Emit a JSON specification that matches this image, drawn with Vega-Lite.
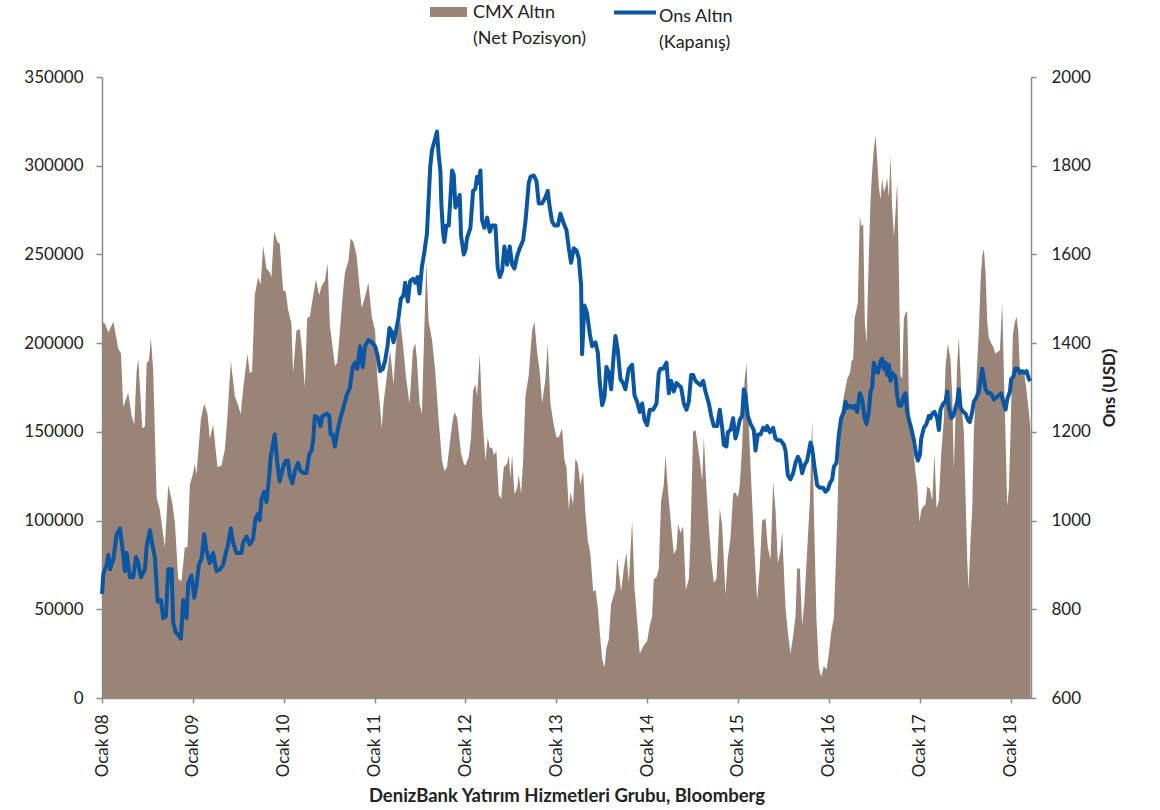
{
"$schema": "https://vega.github.io/schema/vega-lite/v6.json",
"autosize": {"type": "none"},
"padding": {"left": 102, "top": 77, "right": 129, "bottom": 112},
"width": 929,
"height": 621,
"background": "white",
"datasets": {
"cmx": [
{"yil":2008.000,"net":212000},{"yil":2008.033,"net":211000},{"yil":2008.070,"net":206000},{"yil":2008.125,"net":212000},{"yil":2008.179,"net":197000},{"yil":2008.209,"net":194000},{"yil":2008.234,"net":164000},{"yil":2008.289,"net":172000},{"yil":2008.326,"net":159000},{"yil":2008.355,"net":154000},{"yil":2008.381,"net":184000},{"yil":2008.399,"net":191000},{"yil":2008.418,"net":175000},{"yil":2008.443,"net":152000},{"yil":2008.473,"net":153000},{"yil":2008.491,"net":189000},{"yil":2008.516,"net":190000},{"yil":2008.538,"net":203000},{"yil":2008.564,"net":184000},{"yil":2008.601,"net":113000},{"yil":2008.637,"net":106000},{"yil":2008.692,"net":85000},{"yil":2008.729,"net":120000},{"yil":2008.773,"net":110000},{"yil":2008.802,"net":99000},{"yil":2008.839,"net":67000},{"yil":2008.875,"net":66000},{"yil":2008.912,"net":85000},{"yil":2008.941,"net":85000},{"yil":2008.967,"net":120000},
{"yil":2009.004,"net":127000},{"yil":2009.022,"net":132000},{"yil":2009.040,"net":126000},{"yil":2009.088,"net":157000},{"yil":2009.125,"net":166000},{"yil":2009.161,"net":160000},{"yil":2009.187,"net":146000},{"yil":2009.223,"net":154000},{"yil":2009.271,"net":130000},{"yil":2009.315,"net":131000},{"yil":2009.352,"net":140000},{"yil":2009.381,"net":159000},{"yil":2009.418,"net":190000},{"yil":2009.462,"net":170000},{"yil":2009.498,"net":165000},{"yil":2009.527,"net":160000},{"yil":2009.553,"net":174000},{"yil":2009.601,"net":194000},{"yil":2009.626,"net":183000},{"yil":2009.652,"net":184000},{"yil":2009.681,"net":227000},{"yil":2009.718,"net":237000},{"yil":2009.747,"net":233000},{"yil":2009.773,"net":255000},{"yil":2009.810,"net":242000},{"yil":2009.846,"net":240000},{"yil":2009.864,"net":237000},{"yil":2009.894,"net":263000},{"yil":2009.930,"net":257000},{"yil":2009.956,"net":256000},{"yil":2009.993,"net":230000},
{"yil":2010.022,"net":229000},{"yil":2010.048,"net":219000},{"yil":2010.085,"net":211000},{"yil":2010.103,"net":183000},{"yil":2010.140,"net":207000},{"yil":2010.177,"net":208000},{"yil":2010.206,"net":194000},{"yil":2010.232,"net":175000},{"yil":2010.258,"net":214000},{"yil":2010.287,"net":215000},{"yil":2010.313,"net":223000},{"yil":2010.354,"net":236000},{"yil":2010.390,"net":227000},{"yil":2010.416,"net":232000},{"yil":2010.453,"net":235000},{"yil":2010.483,"net":245000},{"yil":2010.508,"net":210000},{"yil":2010.538,"net":198000},{"yil":2010.564,"net":187000},{"yil":2010.589,"net":189000},{"yil":2010.619,"net":207000},{"yil":2010.648,"net":226000},{"yil":2010.674,"net":240000},{"yil":2010.711,"net":246000},{"yil":2010.737,"net":259000},{"yil":2010.766,"net":257000},{"yil":2010.803,"net":249000},{"yil":2010.832,"net":233000},{"yil":2010.858,"net":220000},{"yil":2010.895,"net":226000},{"yil":2010.932,"net":234000},{"yil":2010.969,"net":215000},
{"yil":2011.006,"net":207000},{"yil":2011.031,"net":180000},{"yil":2011.061,"net":164000},{"yil":2011.079,"net":152000},{"yil":2011.098,"net":166000},{"yil":2011.134,"net":181000},{"yil":2011.171,"net":196000},{"yil":2011.208,"net":177000},{"yil":2011.245,"net":205000},{"yil":2011.282,"net":213000},{"yil":2011.319,"net":196000},{"yil":2011.348,"net":180000},{"yil":2011.385,"net":166000},{"yil":2011.422,"net":196000},{"yil":2011.448,"net":200000},{"yil":2011.466,"net":191000},{"yil":2011.495,"net":166000},{"yil":2011.521,"net":160000},{"yil":2011.547,"net":207000},{"yil":2011.569,"net":246000},{"yil":2011.595,"net":212000},{"yil":2011.632,"net":202000},{"yil":2011.668,"net":184000},{"yil":2011.705,"net":157000},{"yil":2011.742,"net":134000},{"yil":2011.768,"net":128000},{"yil":2011.797,"net":130000},{"yil":2011.827,"net":143000},{"yil":2011.853,"net":154000},{"yil":2011.878,"net":161000},{"yil":2011.908,"net":158000},{"yil":2011.952,"net":138000},{"yil":2011.982,"net":132000},
{"yil":2012.000,"net":131000},{"yil":2012.037,"net":136000},{"yil":2012.062,"net":147000},{"yil":2012.084,"net":173000},{"yil":2012.110,"net":177000},{"yil":2012.128,"net":170000},{"yil":2012.158,"net":194000},{"yil":2012.183,"net":161000},{"yil":2012.220,"net":134000},{"yil":2012.246,"net":147000},{"yil":2012.268,"net":141000},{"yil":2012.294,"net":141000},{"yil":2012.312,"net":137000},{"yil":2012.341,"net":139000},{"yil":2012.367,"net":115000},{"yil":2012.393,"net":112000},{"yil":2012.422,"net":130000},{"yil":2012.459,"net":132000},{"yil":2012.477,"net":137000},{"yil":2012.495,"net":124000},{"yil":2012.514,"net":137000},{"yil":2012.539,"net":115000},{"yil":2012.569,"net":118000},{"yil":2012.587,"net":126000},{"yil":2012.613,"net":115000},{"yil":2012.635,"net":134000},{"yil":2012.661,"net":170000},{"yil":2012.697,"net":182000},{"yil":2012.734,"net":207000},{"yil":2012.760,"net":212000},{"yil":2012.789,"net":195000},{"yil":2012.818,"net":184000},{"yil":2012.844,"net":166000},{"yil":2012.881,"net":180000},{"yil":2012.906,"net":200000},{"yil":2012.936,"net":166000},{"yil":2012.972,"net":154000},
{"yil":2013.002,"net":147000},{"yil":2013.028,"net":147000},{"yil":2013.064,"net":152000},{"yil":2013.090,"net":134000},{"yil":2013.112,"net":130000},{"yil":2013.138,"net":106000},{"yil":2013.156,"net":116000},{"yil":2013.185,"net":109000},{"yil":2013.211,"net":135000},{"yil":2013.237,"net":132000},{"yil":2013.266,"net":120000},{"yil":2013.295,"net":128000},{"yil":2013.321,"net":104000},{"yil":2013.347,"net":89000},{"yil":2013.376,"net":81000},{"yil":2013.406,"net":60000},{"yil":2013.431,"net":61000},{"yil":2013.457,"net":51000},{"yil":2013.479,"net":37000},{"yil":2013.505,"net":22000},{"yil":2013.530,"net":17000},{"yil":2013.552,"net":28000},{"yil":2013.578,"net":33000},{"yil":2013.604,"net":53000},{"yil":2013.633,"net":58000},{"yil":2013.651,"net":61000},{"yil":2013.670,"net":79000},{"yil":2013.688,"net":71000},{"yil":2013.714,"net":60000},{"yil":2013.743,"net":73000},{"yil":2013.772,"net":82000},{"yil":2013.798,"net":65000},{"yil":2013.835,"net":100000},{"yil":2013.861,"net":62000},{"yil":2013.890,"net":44000},{"yil":2013.919,"net":25000},{"yil":2013.945,"net":28000},{"yil":2013.982,"net":31000},
{"yil":2014.000,"net":32000},{"yil":2014.029,"net":41000},{"yil":2014.055,"net":46000},{"yil":2014.073,"net":67000},{"yil":2014.103,"net":68000},{"yil":2014.128,"net":73000},{"yil":2014.154,"net":111000},{"yil":2014.183,"net":120000},{"yil":2014.202,"net":137000},{"yil":2014.228,"net":118000},{"yil":2014.257,"net":101000},{"yil":2014.294,"net":81000},{"yil":2014.323,"net":84000},{"yil":2014.341,"net":98000},{"yil":2014.367,"net":93000},{"yil":2014.396,"net":97000},{"yil":2014.426,"net":61000},{"yil":2014.459,"net":67000},{"yil":2014.477,"net":90000},{"yil":2014.506,"net":150000},{"yil":2014.532,"net":151000},{"yil":2014.550,"net":145000},{"yil":2014.580,"net":134000},{"yil":2014.606,"net":122000},{"yil":2014.624,"net":147000},{"yil":2014.653,"net":118000},{"yil":2014.679,"net":97000},{"yil":2014.705,"net":78000},{"yil":2014.734,"net":65000},{"yil":2014.763,"net":67000},{"yil":2014.800,"net":107000},{"yil":2014.826,"net":97000},{"yil":2014.862,"net":58000},{"yil":2014.888,"net":79000},{"yil":2014.917,"net":90000},{"yil":2014.947,"net":115000},{"yil":2014.972,"net":116000},{"yil":2014.998,"net":113000},
{"yil":2015.020,"net":120000},{"yil":2015.046,"net":142000},{"yil":2015.072,"net":179000},{"yil":2015.094,"net":189000},{"yil":2015.119,"net":154000},{"yil":2015.138,"net":131000},{"yil":2015.174,"net":90000},{"yil":2015.211,"net":55000},{"yil":2015.240,"net":74000},{"yil":2015.266,"net":100000},{"yil":2015.303,"net":101000},{"yil":2015.328,"net":85000},{"yil":2015.358,"net":78000},{"yil":2015.387,"net":122000},{"yil":2015.413,"net":106000},{"yil":2015.439,"net":76000},{"yil":2015.468,"net":83000},{"yil":2015.486,"net":94000},{"yil":2015.523,"net":51000},{"yil":2015.549,"net":37000},{"yil":2015.578,"net":25000},{"yil":2015.607,"net":35000},{"yil":2015.633,"net":46000},{"yil":2015.651,"net":73000},{"yil":2015.681,"net":73000},{"yil":2015.706,"net":41000},{"yil":2015.732,"net":55000},{"yil":2015.761,"net":83000},{"yil":2015.791,"net":111000},{"yil":2015.817,"net":157000},{"yil":2015.835,"net":106000},{"yil":2015.864,"net":44000},{"yil":2015.890,"net":17000},{"yil":2015.916,"net":12000},{"yil":2015.945,"net":18000},{"yil":2015.974,"net":16000},
{"yil":2016.000,"net":25000},{"yil":2016.026,"net":37000},{"yil":2016.055,"net":45000},{"yil":2016.073,"net":71000},{"yil":2016.092,"net":101000},{"yil":2016.110,"net":136000},{"yil":2016.136,"net":159000},{"yil":2016.165,"net":170000},{"yil":2016.202,"net":180000},{"yil":2016.231,"net":183000},{"yil":2016.250,"net":190000},{"yil":2016.268,"net":191000},{"yil":2016.283,"net":214000},{"yil":2016.305,"net":219000},{"yil":2016.319,"net":223000},{"yil":2016.341,"net":272000},{"yil":2016.356,"net":266000},{"yil":2016.378,"net":267000},{"yil":2016.396,"net":212000},{"yil":2016.415,"net":200000},{"yil":2016.440,"net":249000},{"yil":2016.459,"net":281000},{"yil":2016.477,"net":297000},{"yil":2016.495,"net":309000},{"yil":2016.514,"net":317000},{"yil":2016.532,"net":304000},{"yil":2016.550,"net":288000},{"yil":2016.569,"net":281000},{"yil":2016.587,"net":293000},{"yil":2016.606,"net":285000},{"yil":2016.624,"net":288000},{"yil":2016.642,"net":293000},{"yil":2016.661,"net":282000},{"yil":2016.679,"net":306000},{"yil":2016.697,"net":276000},{"yil":2016.716,"net":260000},{"yil":2016.734,"net":274000},{"yil":2016.752,"net":291000},{"yil":2016.771,"net":240000},{"yil":2016.789,"net":182000},{"yil":2016.807,"net":180000},{"yil":2016.826,"net":214000},{"yil":2016.844,"net":217000},{"yil":2016.862,"net":218000},{"yil":2016.881,"net":170000},{"yil":2016.899,"net":152000},{"yil":2016.928,"net":141000},{"yil":2016.954,"net":127000},{"yil":2016.972,"net":120000},{"yil":2016.998,"net":99000},
{"yil":2017.017,"net":106000},{"yil":2017.039,"net":108000},{"yil":2017.064,"net":109000},{"yil":2017.083,"net":119000},{"yil":2017.112,"net":118000},{"yil":2017.138,"net":111000},{"yil":2017.163,"net":138000},{"yil":2017.185,"net":107000},{"yil":2017.211,"net":111000},{"yil":2017.237,"net":138000},{"yil":2017.266,"net":157000},{"yil":2017.284,"net":187000},{"yil":2017.310,"net":200000},{"yil":2017.339,"net":191000},{"yil":2017.358,"net":170000},{"yil":2017.376,"net":129000},{"yil":2017.394,"net":159000},{"yil":2017.413,"net":189000},{"yil":2017.431,"net":203000},{"yil":2017.450,"net":182000},{"yil":2017.468,"net":161000},{"yil":2017.486,"net":150000},{"yil":2017.505,"net":113000},{"yil":2017.523,"net":78000},{"yil":2017.538,"net":61000},{"yil":2017.560,"net":90000},{"yil":2017.578,"net":106000},{"yil":2017.596,"net":150000},{"yil":2017.615,"net":170000},{"yil":2017.633,"net":189000},{"yil":2017.651,"net":207000},{"yil":2017.670,"net":235000},{"yil":2017.688,"net":249000},{"yil":2017.706,"net":253000},{"yil":2017.725,"net":240000},{"yil":2017.743,"net":212000},{"yil":2017.761,"net":203000},{"yil":2017.787,"net":200000},{"yil":2017.809,"net":198000},{"yil":2017.835,"net":194000},{"yil":2017.853,"net":195000},{"yil":2017.883,"net":196000},{"yil":2017.908,"net":223000},{"yil":2017.927,"net":182000},{"yil":2017.945,"net":147000},{"yil":2017.963,"net":108000},{"yil":2017.982,"net":118000},
{"yil":2018.000,"net":150000},{"yil":2018.026,"net":205000},{"yil":2018.044,"net":211000},{"yil":2018.066,"net":215000},{"yil":2018.084,"net":207000},{"yil":2018.103,"net":184000},{"yil":2018.128,"net":184000},{"yil":2018.154,"net":182000},{"yil":2018.176,"net":173000},{"yil":2018.202,"net":161000},{"yil":2018.220,"net":150000}
],
"ons": [
{"yil":2008.000,"ons":835},{"yil":2008.015,"ons":881},{"yil":2008.051,"ons":900},{"yil":2008.070,"ons":923},{"yil":2008.088,"ons":890},{"yil":2008.125,"ons":913},{"yil":2008.161,"ons":969},{"yil":2008.198,"ons":982},{"yil":2008.234,"ons":923},{"yil":2008.253,"ons":886},{"yil":2008.271,"ons":927},{"yil":2008.308,"ons":872},{"yil":2008.344,"ons":872},{"yil":2008.374,"ons":918},{"yil":2008.399,"ons":904},{"yil":2008.429,"ons":872},{"yil":2008.473,"ons":890},{"yil":2008.491,"ons":941},{"yil":2008.527,"ons":978},{"yil":2008.553,"ons":946},{"yil":2008.582,"ons":918},{"yil":2008.612,"ons":817},{"yil":2008.648,"ons":821},{"yil":2008.674,"ons":780},{"yil":2008.703,"ons":784},{"yil":2008.729,"ons":890},{"yil":2008.766,"ons":890},{"yil":2008.784,"ons":770},{"yil":2008.813,"ons":747},{"yil":2008.839,"ons":743},{"yil":2008.868,"ons":734},{"yil":2008.894,"ons":821},{"yil":2008.930,"ons":780},{"yil":2008.949,"ons":858},{"yil":2008.985,"ons":876},
{"yil":2009.015,"ons":826},{"yil":2009.040,"ons":853},{"yil":2009.066,"ons":900},{"yil":2009.095,"ons":913},{"yil":2009.125,"ons":969},{"yil":2009.150,"ons":932},{"yil":2009.187,"ons":904},{"yil":2009.223,"ons":927},{"yil":2009.260,"ons":886},{"yil":2009.297,"ons":890},{"yil":2009.333,"ons":900},{"yil":2009.363,"ons":927},{"yil":2009.388,"ons":946},{"yil":2009.418,"ons":982},{"yil":2009.443,"ons":950},{"yil":2009.480,"ons":927},{"yil":2009.535,"ons":927},{"yil":2009.553,"ons":950},{"yil":2009.590,"ons":964},{"yil":2009.626,"ons":946},{"yil":2009.663,"ons":959},{"yil":2009.689,"ons":1005},{"yil":2009.718,"ons":1015},{"yil":2009.736,"ons":1001},{"yil":2009.755,"ons":1047},{"yil":2009.784,"ons":1065},{"yil":2009.810,"ons":1042},{"yil":2009.835,"ons":1088},{"yil":2009.857,"ons":1144},{"yil":2009.901,"ons":1194},{"yil":2009.930,"ons":1130},{"yil":2009.956,"ons":1088},{"yil":2009.993,"ons":1120},
{"yil":2010.022,"ons":1135},{"yil":2010.048,"ons":1135},{"yil":2010.066,"ons":1102},{"yil":2010.096,"ons":1084},{"yil":2010.122,"ons":1112},{"yil":2010.158,"ons":1130},{"yil":2010.184,"ons":1112},{"yil":2010.221,"ons":1107},{"yil":2010.250,"ons":1107},{"yil":2010.280,"ons":1148},{"yil":2010.306,"ons":1158},{"yil":2010.324,"ons":1181},{"yil":2010.343,"ons":1236},{"yil":2010.379,"ons":1231},{"yil":2010.405,"ons":1213},{"yil":2010.427,"ons":1236},{"yil":2010.471,"ons":1241},{"yil":2010.501,"ons":1236},{"yil":2010.516,"ons":1194},{"yil":2010.538,"ons":1194},{"yil":2010.564,"ons":1167},{"yil":2010.589,"ons":1199},{"yil":2010.619,"ons":1227},{"yil":2010.656,"ons":1254},{"yil":2010.692,"ons":1282},{"yil":2010.729,"ons":1300},{"yil":2010.759,"ons":1346},{"yil":2010.785,"ons":1356},{"yil":2010.810,"ons":1342},{"yil":2010.840,"ons":1393},{"yil":2010.869,"ons":1346},{"yil":2010.895,"ons":1393},{"yil":2010.932,"ons":1407},{"yil":2010.969,"ons":1402},
{"yil":2011.006,"ons":1393},{"yil":2011.031,"ons":1374},{"yil":2011.061,"ons":1337},{"yil":2011.090,"ons":1342},{"yil":2011.116,"ons":1360},{"yil":2011.142,"ons":1393},{"yil":2011.164,"ons":1434},{"yil":2011.190,"ons":1425},{"yil":2011.208,"ons":1402},{"yil":2011.238,"ons":1430},{"yil":2011.263,"ons":1457},{"yil":2011.289,"ons":1499},{"yil":2011.319,"ons":1508},{"yil":2011.337,"ons":1536},{"yil":2011.366,"ons":1494},{"yil":2011.392,"ons":1540},{"yil":2011.422,"ons":1545},{"yil":2011.448,"ons":1536},{"yil":2011.473,"ons":1549},{"yil":2011.495,"ons":1512},{"yil":2011.521,"ons":1572},{"yil":2011.547,"ons":1604},{"yil":2011.576,"ons":1646},{"yil":2011.595,"ons":1724},{"yil":2011.613,"ons":1798},{"yil":2011.632,"ons":1835},{"yil":2011.650,"ons":1849},{"yil":2011.668,"ons":1862},{"yil":2011.687,"ons":1877},{"yil":2011.705,"ons":1826},{"yil":2011.724,"ons":1789},{"yil":2011.735,"ons":1715},{"yil":2011.753,"ons":1651},{"yil":2011.768,"ons":1628},{"yil":2011.790,"ons":1665},{"yil":2011.816,"ons":1665},{"yil":2011.834,"ons":1724},{"yil":2011.853,"ons":1789},{"yil":2011.871,"ons":1780},{"yil":2011.890,"ons":1706},{"yil":2011.908,"ons":1715},{"yil":2011.937,"ons":1734},{"yil":2011.952,"ons":1642},{"yil":2011.982,"ons":1600},
{"yil":2012.000,"ons":1610},{"yil":2012.018,"ons":1637},{"yil":2012.055,"ons":1660},{"yil":2012.084,"ons":1743},{"yil":2012.110,"ons":1748},{"yil":2012.128,"ons":1775},{"yil":2012.147,"ons":1761},{"yil":2012.165,"ons":1789},{"yil":2012.183,"ons":1678},{"yil":2012.209,"ons":1660},{"yil":2012.239,"ons":1683},{"yil":2012.268,"ons":1651},{"yil":2012.294,"ons":1665},{"yil":2012.330,"ons":1665},{"yil":2012.356,"ons":1568},{"yil":2012.378,"ons":1549},{"yil":2012.404,"ons":1563},{"yil":2012.429,"ons":1618},{"yil":2012.459,"ons":1577},{"yil":2012.488,"ons":1618},{"yil":2012.514,"ons":1577},{"yil":2012.539,"ons":1568},{"yil":2012.569,"ons":1596},{"yil":2012.598,"ons":1614},{"yil":2012.635,"ons":1632},{"yil":2012.661,"ons":1674},{"yil":2012.697,"ons":1761},{"yil":2012.716,"ons":1775},{"yil":2012.752,"ons":1778},{"yil":2012.782,"ons":1766},{"yil":2012.807,"ons":1715},{"yil":2012.844,"ons":1715},{"yil":2012.881,"ons":1729},{"yil":2012.906,"ons":1743},{"yil":2012.928,"ons":1706},{"yil":2012.954,"ons":1674},{"yil":2012.983,"ons":1665},
{"yil":2013.017,"ons":1665},{"yil":2013.046,"ons":1692},{"yil":2013.083,"ons":1669},{"yil":2013.112,"ons":1655},{"yil":2013.138,"ons":1614},{"yil":2013.163,"ons":1581},{"yil":2013.193,"ons":1614},{"yil":2013.222,"ons":1609},{"yil":2013.248,"ons":1591},{"yil":2013.273,"ons":1531},{"yil":2013.284,"ons":1375},{"yil":2013.310,"ons":1485},{"yil":2013.339,"ons":1467},{"yil":2013.369,"ons":1421},{"yil":2013.394,"ons":1393},{"yil":2013.431,"ons":1402},{"yil":2013.457,"ons":1379},{"yil":2013.479,"ons":1310},{"yil":2013.505,"ons":1260},{"yil":2013.530,"ons":1278},{"yil":2013.552,"ons":1346},{"yil":2013.578,"ons":1333},{"yil":2013.604,"ons":1296},{"yil":2013.633,"ons":1375},{"yil":2013.651,"ons":1416},{"yil":2013.677,"ons":1384},{"yil":2013.706,"ons":1319},{"yil":2013.736,"ons":1310},{"yil":2013.761,"ons":1296},{"yil":2013.798,"ons":1342},{"yil":2013.835,"ons":1351},{"yil":2013.861,"ons":1282},{"yil":2013.890,"ons":1268},{"yil":2013.919,"ons":1245},{"yil":2013.945,"ons":1264},{"yil":2013.971,"ons":1227},
{"yil":2014.000,"ons":1215},{"yil":2014.029,"ons":1250},{"yil":2014.066,"ons":1250},{"yil":2014.103,"ons":1264},{"yil":2014.128,"ons":1333},{"yil":2014.147,"ons":1342},{"yil":2014.176,"ons":1342},{"yil":2014.213,"ons":1356},{"yil":2014.239,"ons":1287},{"yil":2014.264,"ons":1315},{"yil":2014.294,"ons":1291},{"yil":2014.323,"ons":1310},{"yil":2014.349,"ons":1305},{"yil":2014.374,"ons":1300},{"yil":2014.404,"ons":1264},{"yil":2014.433,"ons":1250},{"yil":2014.459,"ons":1268},{"yil":2014.484,"ons":1328},{"yil":2014.506,"ons":1328},{"yil":2014.532,"ons":1315},{"yil":2014.558,"ons":1310},{"yil":2014.587,"ons":1305},{"yil":2014.617,"ons":1315},{"yil":2014.642,"ons":1291},{"yil":2014.679,"ons":1264},{"yil":2014.705,"ons":1236},{"yil":2014.734,"ons":1213},{"yil":2014.771,"ons":1213},{"yil":2014.800,"ons":1250},{"yil":2014.826,"ons":1209},{"yil":2014.844,"ons":1171},{"yil":2014.873,"ons":1167},{"yil":2014.888,"ons":1199},{"yil":2014.917,"ons":1204},{"yil":2014.947,"ons":1231},{"yil":2014.972,"ons":1185},{"yil":2014.991,"ons":1199},
{"yil":2015.020,"ons":1227},{"yil":2015.046,"ons":1236},{"yil":2015.064,"ons":1296},{"yil":2015.083,"ons":1282},{"yil":2015.108,"ons":1236},{"yil":2015.138,"ons":1218},{"yil":2015.174,"ons":1204},{"yil":2015.193,"ons":1158},{"yil":2015.218,"ons":1194},{"yil":2015.248,"ons":1194},{"yil":2015.277,"ons":1209},{"yil":2015.303,"ons":1204},{"yil":2015.321,"ons":1213},{"yil":2015.350,"ons":1199},{"yil":2015.387,"ons":1209},{"yil":2015.413,"ons":1185},{"yil":2015.439,"ons":1181},{"yil":2015.468,"ons":1181},{"yil":2015.505,"ons":1171},{"yil":2015.523,"ons":1158},{"yil":2015.549,"ons":1102},{"yil":2015.578,"ons":1093},{"yil":2015.607,"ons":1107},{"yil":2015.633,"ons":1130},{"yil":2015.659,"ons":1144},{"yil":2015.681,"ons":1135},{"yil":2015.706,"ons":1107},{"yil":2015.732,"ons":1125},{"yil":2015.761,"ons":1135},{"yil":2015.798,"ons":1176},{"yil":2015.817,"ons":1162},{"yil":2015.842,"ons":1121},{"yil":2015.872,"ons":1079},{"yil":2015.901,"ons":1074},{"yil":2015.938,"ons":1074},{"yil":2015.963,"ons":1065},{"yil":2015.989,"ons":1070},
{"yil":2016.011,"ons":1084},{"yil":2016.037,"ons":1093},{"yil":2016.055,"ons":1121},{"yil":2016.084,"ons":1130},{"yil":2016.110,"ons":1194},{"yil":2016.136,"ons":1231},{"yil":2016.165,"ons":1245},{"yil":2016.183,"ons":1268},{"yil":2016.202,"ons":1254},{"yil":2016.231,"ons":1259},{"yil":2016.257,"ons":1254},{"yil":2016.283,"ons":1259},{"yil":2016.312,"ons":1245},{"yil":2016.341,"ons":1287},{"yil":2016.367,"ons":1273},{"yil":2016.393,"ons":1231},{"yil":2016.415,"ons":1218},{"yil":2016.440,"ons":1245},{"yil":2016.459,"ons":1291},{"yil":2016.477,"ons":1300},{"yil":2016.495,"ons":1356},{"yil":2016.514,"ons":1342},{"yil":2016.539,"ons":1333},{"yil":2016.569,"ons":1360},{"yil":2016.587,"ons":1365},{"yil":2016.606,"ons":1342},{"yil":2016.624,"ons":1356},{"yil":2016.642,"ons":1328},{"yil":2016.661,"ons":1351},{"yil":2016.679,"ons":1315},{"yil":2016.697,"ons":1333},{"yil":2016.716,"ons":1328},{"yil":2016.734,"ons":1324},{"yil":2016.752,"ons":1282},{"yil":2016.771,"ons":1259},{"yil":2016.796,"ons":1259},{"yil":2016.826,"ons":1282},{"yil":2016.844,"ons":1287},{"yil":2016.862,"ons":1245},{"yil":2016.881,"ons":1227},{"yil":2016.906,"ons":1209},{"yil":2016.936,"ons":1181},{"yil":2016.961,"ons":1148},{"yil":2016.980,"ons":1135},
{"yil":2017.002,"ons":1148},{"yil":2017.017,"ons":1185},{"yil":2017.046,"ons":1209},{"yil":2017.075,"ons":1218},{"yil":2017.101,"ons":1236},{"yil":2017.119,"ons":1231},{"yil":2017.138,"ons":1241},{"yil":2017.163,"ons":1245},{"yil":2017.193,"ons":1231},{"yil":2017.211,"ons":1204},{"yil":2017.229,"ons":1250},{"yil":2017.259,"ons":1264},{"yil":2017.284,"ons":1268},{"yil":2017.303,"ons":1291},{"yil":2017.321,"ons":1254},{"yil":2017.347,"ons":1231},{"yil":2017.369,"ons":1236},{"yil":2017.394,"ons":1254},{"yil":2017.413,"ons":1268},{"yil":2017.431,"ons":1296},{"yil":2017.450,"ons":1254},{"yil":2017.479,"ons":1245},{"yil":2017.505,"ons":1241},{"yil":2017.530,"ons":1227},{"yil":2017.552,"ons":1222},{"yil":2017.578,"ons":1245},{"yil":2017.596,"ons":1268},{"yil":2017.626,"ons":1278},{"yil":2017.651,"ons":1291},{"yil":2017.670,"ons":1319},{"yil":2017.688,"ons":1342},{"yil":2017.706,"ons":1319},{"yil":2017.725,"ons":1296},{"yil":2017.750,"ons":1287},{"yil":2017.780,"ons":1287},{"yil":2017.798,"ons":1282},{"yil":2017.817,"ons":1273},{"yil":2017.842,"ons":1278},{"yil":2017.872,"ons":1282},{"yil":2017.897,"ons":1287},{"yil":2017.919,"ons":1268},{"yil":2017.945,"ons":1250},{"yil":2017.963,"ons":1273},{"yil":2017.993,"ons":1291},
{"yil":2018.007,"ons":1319},{"yil":2018.029,"ons":1324},{"yil":2018.055,"ons":1342},{"yil":2018.081,"ons":1342},{"yil":2018.103,"ons":1333},{"yil":2018.128,"ons":1337},{"yil":2018.154,"ons":1333},{"yil":2018.176,"ons":1337},{"yil":2018.202,"ons":1319},{"yil":2018.220,"ons":1315}
]
},
"layer": [
{
"data": {"name": "cmx"},
"mark": {"type": "area", "interpolate": "linear", "opacity": 1},
"encoding": {
"x": {"field": "yil", "type": "quantitative", "scale": {"domain": [2008, 2018.225], "nice": false, "zero": false},
"axis": {"values": [2008, 2009, 2010, 2011, 2012, 2013, 2014, 2015, 2016, 2017, 2018], "labelExpr": "'Ocak ' + slice(toString(datum.value), 2)", "labelAngle": 270, "tickSize": 5, "labelPadding": 11, "labelFlush": false, "labelOverlap": false, "title": "DenizBank Yatırım Hizmetleri Grubu, Bloomberg", "titleFontSize": 18.5, "titleFontWeight": "bold", "titlePadding": 10}},
"y": {"field": "net", "type": "quantitative", "scale": {"domain": [0, 350000], "nice": false},
"axis": {"orient": "left", "values": [0, 50000, 100000, 150000, 200000, 250000, 300000, 350000], "format": "d", "tickSize": 6, "labelPadding": 13, "title": null}},
"fill": {"datum": "CMX Altın", "scale": {"range": ["#998477"]},
"legend": {"orient": "none", "legendX": 328, "legendY": -92, "title": null, "padding": 0, "symbolType": "M-1,0.19L1,0.19L1,0.73L-1,0.73Z", "symbolSize": 1369, "symbolStrokeWidth": 0, "labelExpr": "['CMX Altın', '(Net Pozisyon)']", "labelBaseline": "top", "labelFontSize": 18, "labelOffset": 6, "labelLimit": 300}}
}
},
{
"data": {"name": "ons"},
"mark": {"type": "line", "strokeWidth": 4, "strokeJoin": "round", "interpolate": "linear"},
"encoding": {
"x": {"field": "yil", "type": "quantitative"},
"y": {"field": "ons", "type": "quantitative", "scale": {"domain": [600, 2000], "nice": false, "zero": false},
"axis": {"orient": "right", "values": [600, 800, 1000, 1200, 1400, 1600, 1800, 2000], "format": "d", "tickSize": 5, "labelPadding": 15, "title": "Ons (USD)", "titleAngle": 270, "titleFontSize": 17, "titleFontWeight": "bold", "titlePadding": 28}},
"stroke": {"datum": "Ons Altın", "scale": {"range": ["#0A56A3"]},
"legend": {"orient": "none", "legendX": 510, "legendY": -92, "title": null, "padding": 0, "symbolType": "M-1,0.22L1,0.22", "symbolSize": 1764, "symbolStrokeWidth": 4, "symbolFillColor": "transparent", "labelExpr": "['Ons Altın', '(Kapanış)']", "labelBaseline": "top", "labelFontSize": 18, "labelOffset": 1, "labelLimit": 300}}
}
}
],
"resolve": {"scale": {"y": "independent"}},
"config": {
"view": {"stroke": null},
"font": "Lato",
"style": {"guide-label": {"lineHeight": 26}},
"axis": {"grid": false, "domainColor": "#8C8C8C", "tickColor": "#8C8C8C", "domainWidth": 1.5, "tickWidth": 1.5, "labelFont": "Lato", "labelFontSize": 17, "labelColor": "#222222", "titleFont": "Lato", "titleColor": "#222222"},
"legend": {"labelFont": "Lato", "labelColor": "#222222"}
}
}
